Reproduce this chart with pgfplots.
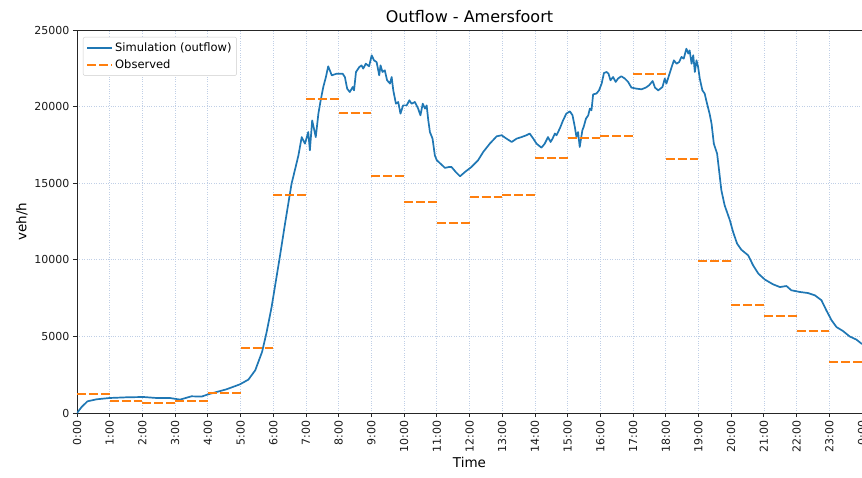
\documentclass[border=0pt]{standalone}
\usepackage{pgfplots}
\pgfplotsset{compat=1.18}
\usepackage{pgfplotstable}
\usepackage{fontspec}
\setmainfont{DejaVu Sans}

\definecolor{simblue}{HTML}{1F77B4}
\definecolor{obsorange}{HTML}{FF7F0E}
\definecolor{gridblue}{HTML}{C0CFE6}

% Observed hourly outflow (veh/h), one value per hour starting at the given hour
\pgfplotstableread{
hour value
0  1260
1  790
2  650
3  790
4  1330
5  4240
6  14200
7  20480
8  19560
9  15500
10 13800
11 12430
12 14130
13 14210
14 16640
15 17950
16 18080
17 22110
18 16580
19 9920
20 7080
21 6330
22 5380
23 3310
}\observed

\begin{document}
\begin{tikzpicture}
\begin{axis}[
  scale only axis,
  width=785pt, height=383pt,
  xmin=0, xmax=24, ymin=0, ymax=25000,
  xtick={0,...,24},
  xticklabels={0:00,1:00,2:00,3:00,4:00,5:00,6:00,7:00,8:00,9:00,10:00,11:00,12:00,13:00,14:00,15:00,16:00,17:00,18:00,19:00,20:00,21:00,22:00,23:00,0:00},
  ytick={0,5000,10000,15000,20000,25000},
  scaled y ticks=false,
  /pgf/number format/.cd, set thousands separator={}, assume math mode=true,
  /pgfplots/.cd,
  xticklabel style={rotate=90, anchor=east, font=\fontsize{11}{12}\selectfont, color=black!90},
  yticklabel style={font=\fontsize{11}{12}\selectfont, color=black!90},
  tick align=outside,
  xtick pos=bottom, ytick pos=left,
  major tick length=4pt,
  tick style={black!85, line width=0.8pt},
  axis line style={black!85, line width=0.9pt},
  grid=major,
  major grid style={dotted, gridblue, line width=0.75pt},
  title={Outflow - Amersfoort},
  title style={font=\fontsize{16}{19}\selectfont, yshift=-2pt},
  xlabel={Time},
  ylabel={veh/h},
  xlabel style={font=\fontsize{13.5}{16}\selectfont, yshift=2pt},
  ylabel style={font=\fontsize{13.5}{16}\selectfont},
  legend style={at={(axis description cs:0.0076,0.982)}, anchor=north west,
    font=\fontsize{11.5}{13}\selectfont, draw=black!20, rounded corners=2pt,
    fill=white, inner xsep=3pt, inner ysep=3.5pt, row sep=3pt,
    cells={anchor=west}},
  legend image code/.code={\draw[#1] (-3pt,0pt) -- (22pt,0pt);},
  clip=true,
]
\addplot[simblue, line width=1.7pt, line join=round, forget plot] coordinates {
(0,0) (0.14,390) (0.32,763) (0.6,894) (1.0,980) (1.52,1025) (2.03,1045)
(2.43,980) (2.84,980) (3.15,875) (3.5,1090) (3.81,1070) (4.01,1220)
(4.57,1547) (4.98,1870) (5.24,2180) (5.45,2790) (5.66,4000) (5.8,5300)
(5.95,6920) (6.2,10180) (6.36,12360) (6.56,14970) (6.66,15840) (6.77,16820)
(6.87,18010) (6.97,17580) (7.07,18340) (7.12,17150) (7.19,19100) (7.3,18010)
(7.38,19540) (7.45,20410) (7.53,21280) (7.61,21930) (7.68,22630) (7.79,22040)
(7.94,22150) (8.12,22150) (8.19,21930) (8.26,21170) (8.34,20950) (8.43,21280)
(8.47,21060) (8.53,22260) (8.63,22580) (8.7,22690) (8.75,22480) (8.83,22800)
(8.93,22630) (9.01,23350) (9.08,23020) (9.16,22910) (9.24,22040) (9.28,22690)
(9.34,22260) (9.41,22370) (9.48,21720) (9.57,21500) (9.62,21930) (9.67,21060)
(9.75,20190) (9.82,20300) (9.89,19540) (9.97,20080) (10.08,20080) (10.16,20410)
(10.23,20190) (10.33,20300) (10.43,19870) (10.5,19430) (10.57,20190) (10.64,19870)
(10.69,20080) (10.74,19100) (10.79,18340) (10.87,17910) (10.94,16820) (11.0,16500)
(11.1,16300) (11.25,16000) (11.38,16060) (11.45,16060) (11.58,15730) (11.71,15450)
(11.86,15730) (12.06,16060) (12.26,16490) (12.42,17040) (12.62,17580) (12.83,18060)
(12.98,18130) (13.13,17910) (13.29,17690) (13.44,17910) (13.59,18010) (13.74,18130)
(13.84,18240) (13.95,17910) (14.05,17580) (14.2,17320) (14.3,17580) (14.4,18010)
(14.48,17690) (14.54,17910) (14.61,18240) (14.66,18130) (14.71,18340) (14.78,18670)
(14.86,19100) (14.96,19540) (15.07,19690) (15.15,19430) (15.22,18670) (15.27,18010)
(15.32,18340) (15.37,17360) (15.45,18450) (15.49,18670) (15.56,19210) (15.63,19430)
(15.68,19870) (15.73,19760) (15.78,20800) (15.88,20850) (15.96,21060) (16.04,21500)
(16.11,22190) (16.19,22260) (16.25,22150) (16.31,21720) (16.39,21930) (16.47,21610)
(16.54,21830) (16.64,21980) (16.75,21830) (16.85,21610) (16.95,21240) (17.11,21170)
(17.26,21130) (17.39,21240) (17.49,21390) (17.6,21670) (17.67,21240) (17.77,21060)
(17.9,21280) (17.97,21830) (18.02,21500) (18.1,22040) (18.18,22580) (18.25,23020)
(18.33,22800) (18.41,22910) (18.48,23240) (18.55,23130) (18.63,23780) (18.69,23460)
(18.73,23670) (18.79,22800) (18.84,23350) (18.89,22260) (18.94,23020) (18.99,22580)
(19.04,21830) (19.12,21060) (19.19,20850) (19.25,20300) (19.34,19540) (19.4,18890)
(19.47,17580) (19.57,16930) (19.63,15840) (19.7,14540) (19.8,13560) (19.96,12580)
(20.06,11810) (20.18,11060) (20.31,10660) (20.52,10290) (20.67,9640) (20.83,9100)
(21.03,8710) (21.28,8400) (21.49,8220) (21.69,8290) (21.84,8010) (22.1,7900)
(22.35,7830) (22.56,7680) (22.76,7360) (22.91,6700) (23.07,6050) (23.22,5610)
(23.42,5350) (23.62,5000) (23.83,4790) (24.0,4500)
};

% each hourly observation spans one hour: drawn as a headless quiver segment
\addplot[obsorange, line width=2pt, dash pattern=on 9pt off 3pt, -,
  quiver={u=1, v=0}, forget plot] table[x=hour, y=value] {\observed};

\addlegendimage{simblue, line width=1.7pt}
\addlegendentry{Simulation (outflow)}
\addlegendimage{obsorange, line width=2pt, dash pattern=on 9pt off 3pt}
\addlegendentry{Observed}
\end{axis}
\pgfresetboundingbox
\path ([shift={(-77pt,-64pt)}]current axis.south west) rectangle ([shift={(0pt,30pt)}]current axis.north east);
\end{tikzpicture}
\end{document}
